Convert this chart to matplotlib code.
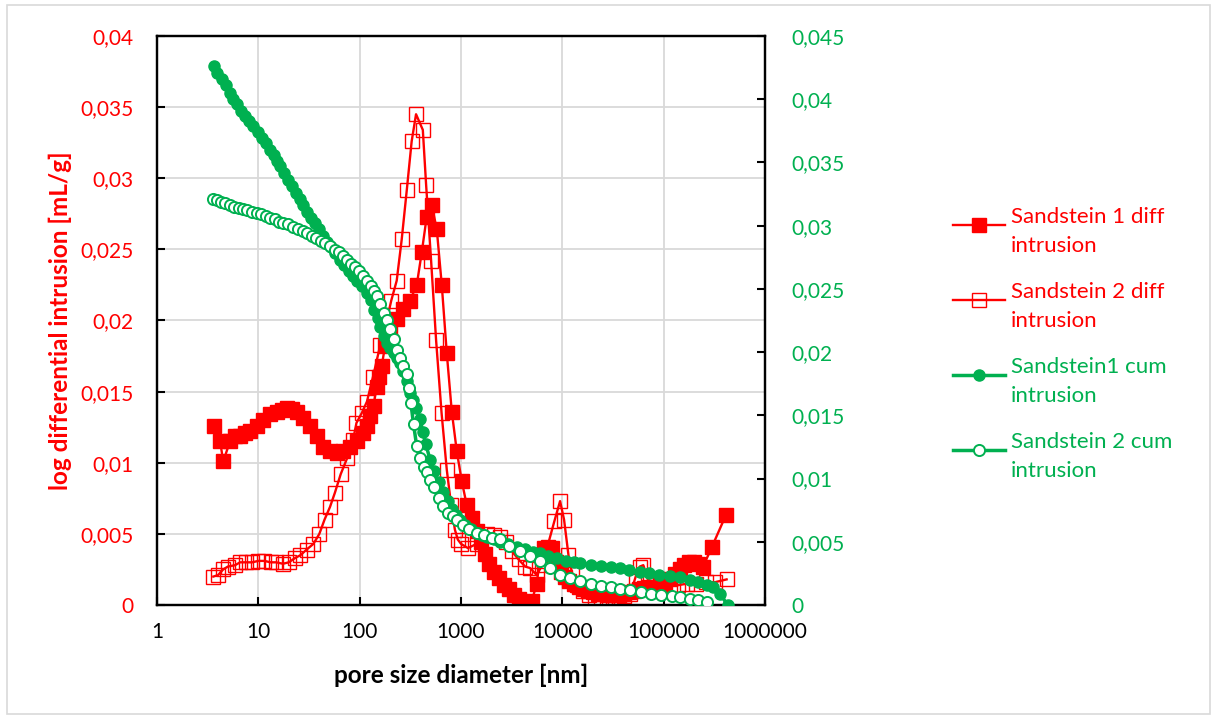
import numpy as np
import matplotlib
matplotlib.use("Agg")
import matplotlib.pyplot as plt
from matplotlib.lines import Line2D
from matplotlib.patches import Rectangle
from matplotlib.ticker import FixedLocator, FuncFormatter, NullLocator

# ============================================================
# DATA
# ============================================================

# Sandstein 1 log differential intrusion [mL/g]
s1_diff_x = [3.65, 4.2, 4.5, 5.26, 5.9, 6.6, 7.4, 8.28, 9.64, 11.2,
             13.0, 15.2, 17.0, 19.1, 21.4, 23.9, 27.8, 32.4, 37.7, 43.8,
             51.0, 59.4, 69.0, 80.4, 93.6, 109, 118, 127, 137, 147,
             156, 165, 178, 200, 232, 270, 314, 366, 410, 459,
             515, 577, 646, 724, 811, 909, 1018, 1141, 1278, 1440,
             1590, 1730, 1900, 2100, 2350, 2650, 2950, 3300, 3750, 4400,
             5000, 5600, 6050, 6600, 7200, 7900, 8700, 9600, 10600, 11700,
             13000, 14500, 16200, 18000, 20000, 22500, 25000, 28000, 31500, 35500,
             40000, 45000, 50500, 57000, 64000, 72000, 81000, 91000, 102000, 115000,
             130000, 145000, 160000, 178000, 197000, 220000, 245000, 300000, 410000]
s1_diff_y = [0.0126, 0.0115, 0.0101, 0.0115, 0.0119, 0.0119, 0.0121, 0.0122, 0.01255, 0.0130,
             0.0134, 0.0136, 0.0137, 0.01385, 0.0138, 0.0136, 0.01314, 0.01255, 0.01185, 0.01114,
             0.0108, 0.01072, 0.0108, 0.0111, 0.0115, 0.0121, 0.0126, 0.0133, 0.0140, 0.0153,
             0.0160, 0.0168, 0.0182, 0.0194, 0.0201, 0.0208, 0.0214, 0.0225, 0.0248, 0.0273,
             0.0281, 0.0264, 0.0225, 0.0177, 0.0136, 0.0108, 0.0087, 0.0070, 0.0061, 0.0052,
             0.0044, 0.0036, 0.0029, 0.0023, 0.0019, 0.0014, 0.0011, 0.0007, 0.0004, 0.0001,
             0.0003, 0.0015, 0.0035, 0.0040, 0.0041, 0.0040, 0.0030, 0.0023, 0.0020, 0.0017,
             0.0015, 0.0013, 0.0011, 0.0010, 0.0009, 0.0008, 0.0008, 0.0007, 0.0007, 0.0007,
             0.0008, 0.0009, 0.0010, 0.0011, 0.0012, 0.0013, 0.0013, 0.0014, 0.0015, 0.0018,
             0.0022, 0.0025, 0.0028, 0.0030, 0.0030, 0.0029, 0.0027, 0.0041, 0.0063]

# Sandstein 2 log differential intrusion [mL/g]
s2_diff_x = [3.6, 4.0, 4.5, 5.0, 5.9, 6.6, 7.6, 8.7, 10.0, 11.5,
             13.2, 15.0, 17.5, 20.0, 23.0, 26.0, 30.0, 35.0, 40.0, 45.0,
             51.0, 57.0, 65.0, 75.0, 86.0, 93.0, 105, 118, 135, 160,
             185, 205, 232, 260, 292, 326, 360, 420, 453, 507,
             568, 643, 724, 800, 870, 930, 1000, 1170, 1430, 1800,
             2100, 2450, 2800, 3160, 3700, 4300, 4800, 5600, 6300, 7000,
             8350, 9500, 10400, 11500, 12500, 14000, 16000, 18500, 21000, 24000,
             27500, 31500, 36000, 41000, 47000, 53000, 58000, 63000, 70000, 80000,
             95000, 115000, 140000, 170000, 210000, 260000, 320000, 418000]
s2_diff_y = [0.0020, 0.0021, 0.0025, 0.0027, 0.0028, 0.0030, 0.0030, 0.0030, 0.0031, 0.0031,
             0.0030, 0.0030, 0.0029, 0.0030, 0.0033, 0.0035, 0.0039, 0.0043, 0.0050, 0.0060,
             0.0069, 0.0079, 0.0092, 0.0103, 0.0116, 0.0128, 0.0135, 0.0143, 0.0160, 0.0183,
             0.0200, 0.0214, 0.0228, 0.0257, 0.0292, 0.0326, 0.0345, 0.0334, 0.0295, 0.0242,
             0.0186, 0.0135, 0.0095, 0.0070, 0.0053, 0.0046, 0.0043, 0.0040, 0.0043, 0.0050,
             0.0049, 0.0048, 0.0044, 0.0038, 0.0032, 0.0027, 0.0026, 0.0021, 0.0028, 0.0039,
             0.0059, 0.0073, 0.0060, 0.0035, 0.0022, 0.0014, 0.0010, 0.0007, 0.0005, 0.0005,
             0.0005, 0.0005, 0.0005, 0.0006, 0.0008, 0.0020, 0.0027, 0.0028, 0.0018, 0.0015,
             0.0014, 0.0014, 0.0014, 0.0015, 0.0015, 0.0016, 0.0016, 0.0018]

# Sandstein 1 cumulative intrusion [mL/g] (right axis)
s1_cum_x = [3.65, 3.95, 4.35, 4.75, 5.2, 5.67, 6.15, 6.75, 7.39, 8.1,
            8.9, 10.0, 10.9, 11.9, 13.0, 14.2, 15.3, 16.4, 18.0, 19.6,
            21.4, 23.3, 25.5, 27.8, 30.3, 33.2, 36.3, 39.6, 43.3, 47.4,
            52, 57.5, 64.1, 70.5, 78, 86.8, 95, 106, 117.5, 128,
            140, 150, 159, 172, 186, 200, 217, 233, 250, 268,
            290, 314, 335, 360, 395, 420, 450, 495, 540, 600,
            666, 740, 820, 900, 980, 1100, 1250, 1450, 1600, 1800,
            2100, 2450, 2900, 3560, 4300, 5100, 6030, 7300, 8900, 10800,
            13000, 15000, 19000, 24000, 30000, 37000, 46000, 58600, 72000, 90000,
            115000, 145000, 180000, 220000, 265000, 308000, 360000, 427000]
s1_cum_y = [0.0426, 0.0421, 0.0416, 0.0411, 0.0405, 0.0400, 0.0396, 0.0391, 0.0387, 0.0383,
            0.0379, 0.0374, 0.0369, 0.0365, 0.0360, 0.0356, 0.0351, 0.0347, 0.0342, 0.0336,
            0.0331, 0.0326, 0.0321, 0.0316, 0.0311, 0.0306, 0.0302, 0.0297, 0.0292, 0.0287,
            0.0283, 0.0278, 0.0273, 0.0269, 0.0264, 0.0260, 0.0256, 0.0252, 0.0247, 0.0241,
            0.0233, 0.0227, 0.0220, 0.0213, 0.0207, 0.0203, 0.0199, 0.0195, 0.0191, 0.0185,
            0.0177, 0.0168, 0.0162, 0.0156, 0.0147, 0.0137, 0.0127, 0.0115, 0.0106, 0.0097,
            0.0089, 0.0082, 0.0076, 0.0071, 0.0067, 0.0063, 0.0060, 0.0057, 0.0055, 0.0054,
            0.0052, 0.0050, 0.0048, 0.0046, 0.0044, 0.0042, 0.0041, 0.0039, 0.0037, 0.0035,
            0.0034, 0.0033, 0.0032, 0.0031, 0.0030, 0.0029, 0.0028, 0.0026, 0.0025, 0.0024,
            0.0023, 0.0022, 0.0020, 0.0018, 0.0016, 0.00145, 0.0009, 0.0]

# Sandstein 2 cumulative intrusion [mL/g] (right axis)
s2_cum_x = [3.6, 3.9, 4.3, 4.7, 5.26, 5.8, 6.4, 7.0, 7.8, 8.6,
            9.6, 10.6, 11.8, 13.0, 14.5, 16.0, 17.7, 19.8, 22, 24.5,
            27.3, 30.2, 33.5, 37.3, 41.5, 46, 51, 56.5, 62.5, 68.5,
            74.7, 82, 90, 99, 109, 119, 129, 138, 148, 160,
            173, 186, 200, 216, 233, 250, 270, 290, 305, 320,
            340, 365, 395, 430, 462, 500, 540, 600, 666, 750,
            830, 910, 1050, 1200, 1440, 1700, 2000, 2450, 3000, 3800,
            4800, 6000, 7500, 9500, 12000, 15000, 19000, 24000, 30000, 37000,
            47000, 60000, 75000, 95000, 120000, 145000, 180000, 220000, 265000]
s2_cum_y = [0.0321, 0.0320, 0.0319, 0.0318, 0.0316, 0.0315, 0.0314, 0.0313, 0.0312, 0.0311,
            0.0310, 0.0309, 0.0308, 0.0306, 0.0305, 0.0303, 0.0302, 0.0301, 0.0299, 0.0297,
            0.0296, 0.0294, 0.0292, 0.0290, 0.0288, 0.0286, 0.0284, 0.0281, 0.0279, 0.0276,
            0.0273, 0.0270, 0.0267, 0.0264, 0.0260, 0.0256, 0.0252, 0.0248, 0.0244, 0.0238,
            0.0231, 0.0225, 0.0218, 0.0210, 0.0202, 0.0195, 0.0189, 0.0183, 0.0172, 0.0160,
            0.0143, 0.0126, 0.0116, 0.0109, 0.0105, 0.0099, 0.0093, 0.0085, 0.0078, 0.0073,
            0.0070, 0.0067, 0.0063, 0.0060, 0.0057, 0.0055, 0.0053, 0.0052, 0.0047, 0.0043,
            0.0039, 0.0035, 0.0029, 0.0024, 0.0021, 0.0019, 0.0017, 0.0015, 0.0014, 0.0013,
            0.0012, 0.0010, 0.0009, 0.0008, 0.0007, 0.0006, 0.0005, 0.0004, 0.0002]

x_ticks = [1, 10, 100, 1000, 10000, 100000, 1000000]
x_tick_labels = ["1", "10", "100", "1000", "10000", "100000", "1000000"]
left_ticks = [0, 0.005, 0.01, 0.015, 0.02, 0.025, 0.03, 0.035, 0.04]
right_ticks = [0, 0.005, 0.01, 0.015, 0.02, 0.025, 0.03, 0.035, 0.04, 0.045]

labels = ["Sandstein 1 diff\nintrusion", "Sandstein 2 diff\nintrusion",
          "Sandstein1 cum\nintrusion", "Sandstein 2 cum\nintrusion"]

# ============================================================
# STYLE
# ============================================================

RED = "#FF0000"
GREEN = "#00B050"
GRID = "#D9D9D9"

plt.rcParams["font.family"] = ["Lato", "DejaVu Sans"]
plt.rcParams["font.size"] = 14

W, H = 1212, 718
fig = plt.figure(figsize=(W / 100, H / 100), dpi=100)

# light outer border like the chart area frame
fig.add_artist(Rectangle((7 / W, 4 / H), 1203 / W, 709 / H,
                         transform=fig.transFigure, fill=False,
                         edgecolor=GRID, linewidth=1.2))

ax = fig.add_axes([157 / W, (H - 605) / H, (765 - 157) / W, (605 - 36) / H])
ax2 = ax.twinx()


def comma_fmt(v, pos):
    if abs(v) < 1e-12:
        return "0"
    return f"{v:g}".replace(".", ",")


# ============================================================
# PLOT
# ============================================================

ax.plot(s1_diff_x, s1_diff_y, color=RED, linewidth=1.7,
        marker="s", markersize=10, markerfacecolor=RED,
        markeredgecolor=RED, zorder=3)
ax.plot(s2_diff_x, s2_diff_y, color=RED, linewidth=1.7,
        marker="s", markersize=9.5, markerfacecolor="none",
        markeredgecolor=RED, markeredgewidth=1.0, zorder=4)

ax2.plot(s1_cum_x, s1_cum_y, color=GREEN, linewidth=2.5,
         marker="o", markersize=8, markerfacecolor=GREEN,
         markeredgecolor=GREEN, zorder=3)
ax2.plot(s2_cum_x, s2_cum_y, color=GREEN, linewidth=2.5,
         marker="o", markersize=8, markerfacecolor="white",
         markeredgecolor=GREEN, markeredgewidth=1.4, zorder=4)

# ============================================================
# AXES
# ============================================================

ax.set_xscale("log")
ax.set_xlim(1, 1000000)
ax.xaxis.set_major_locator(FixedLocator(x_ticks))
ax.xaxis.set_minor_locator(NullLocator())
ax.set_xticklabels(x_tick_labels)

ax.set_ylim(0, 0.04)
ax.yaxis.set_major_locator(FixedLocator(left_ticks))
ax.yaxis.set_major_formatter(FuncFormatter(comma_fmt))

ax2.set_ylim(0, 0.045)
ax2.yaxis.set_major_locator(FixedLocator(right_ticks))
ax2.yaxis.set_major_formatter(FuncFormatter(comma_fmt))

ax.grid(True, color=GRID, linewidth=1.3)
ax.set_axisbelow(True)

ax.tick_params(axis="x", direction="in", length=6, width=1.5,
               labelsize=15, colors="black", pad=12)
ax.tick_params(axis="y", direction="in", length=6, width=1.5,
               labelsize=15, labelcolor=RED, pad=17)
ax2.tick_params(axis="y", direction="in", length=6, width=1.5,
                labelsize=15, labelcolor=GREEN, pad=19)

for a in (ax, ax2):
    for side in a.spines.values():
        side.set_color("black")
        side.set_linewidth(1.6)

ax.set_xlabel("pore size diameter [nm]", fontsize=17.5, fontweight="bold",
              labelpad=16)
ax.set_ylabel("log differential intrusion [mL/g]", fontsize=17.5,
              fontweight="bold", color=RED, labelpad=6)

# ============================================================
# LEGEND (first line of each label aligned with its key, Excel style)
# ============================================================

styles = [
    dict(color=RED, lw=1.7, marker="s", ms=10, mfc=RED, mec=RED),
    dict(color=RED, lw=1.7, marker="s", ms=9.5, mfc="none", mec=RED, mew=1.0),
    dict(color=GREEN, lw=2.5, marker="o", ms=8, mfc=GREEN, mec=GREEN),
    dict(color=GREEN, lw=2.5, marker="o", ms=8, mfc="white", mec=GREEN, mew=1.4),
]
text_colors = [RED, RED, GREEN, GREEN]
entry_y = [225, 300, 375, 450]

for lab, st, tc, yy in zip(labels, styles, text_colors, entry_y):
    yf = 1 - yy / H
    fig.add_artist(Line2D([953 / W, 1005 / W], [yf, yf],
                          color=st["color"], linewidth=st["lw"],
                          transform=fig.transFigure))
    fig.add_artist(Line2D([979 / W], [yf], linestyle="none",
                          marker=st["marker"], markersize=st["ms"],
                          markerfacecolor=st["mfc"],
                          markeredgecolor=st["mec"],
                          markeredgewidth=st.get("mew", 1.0),
                          transform=fig.transFigure))
    fig.text(1011 / W, yf, lab, color=tc, fontsize=16,
             va="center_baseline", ha="left", linespacing=1.55)

plt.savefig("out.png", dpi=100)
